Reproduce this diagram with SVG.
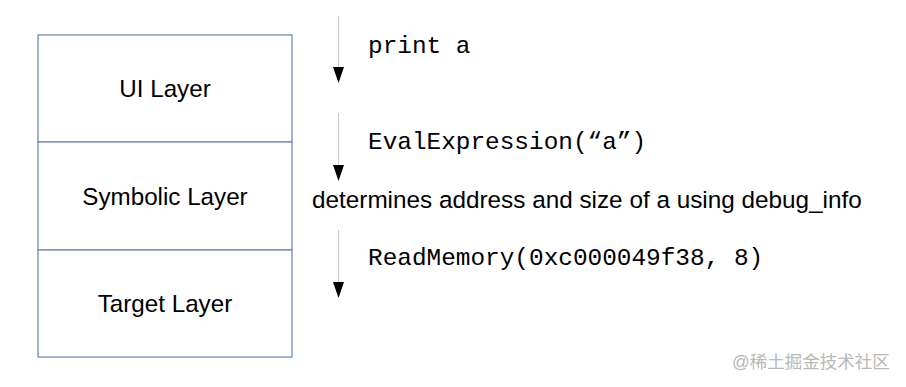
<svg xmlns="http://www.w3.org/2000/svg" width="906" height="387" viewBox="0 0 906 387">
<style>
.box{fill:#ffffff;stroke:#6f8cb5;stroke-width:1.3}
.lbl{font-family:"Liberation Sans",Arial,sans-serif;font-size:24.2px;fill:#000;text-anchor:middle}
.code{font-family:"Liberation Mono","DejaVu Sans Mono",monospace;font-size:24.4px;fill:#000}
.desc{font-family:"Liberation Sans",Arial,sans-serif;font-size:24.3px;fill:#000}
.arr{stroke:#c8c8c8;stroke-width:1;fill:none}
.head{fill:#000}
.wm{font-family:"Liberation Sans","Noto Sans CJK SC",sans-serif;font-size:17.5px;fill:#b8b8b8}
</style>
<rect width="906" height="387" fill="#ffffff"/>
<g id="ui-layer">
<rect class="box" x="38" y="35" width="254" height="107"/>
<text class="lbl" x="165" y="97">UI Layer</text>
</g>
<g id="symbolic-layer">
<rect class="box" x="38" y="142" width="254" height="108"/>
<text class="lbl" x="165" y="205">Symbolic Layer</text>
</g>
<g id="target-layer">
<rect class="box" x="38" y="250" width="254" height="107"/>
<text class="lbl" x="165" y="312">Target Layer</text>
</g>
<g id="connectors">
<line class="arr" x1="338.5" y1="16" x2="338.5" y2="68"/>
<polygon class="head" points="333,67 344,67 338.5,83"/>
<line class="arr" x1="338.5" y1="113" x2="338.5" y2="166"/>
<polygon class="head" points="333,165 344,165 338.5,181"/>
<line class="arr" x1="338.5" y1="230" x2="338.5" y2="283"/>
<polygon class="head" points="333,282 344,282 338.5,298"/>
</g>
<g id="labels">
<text class="code" x="368" y="53">print a</text>
<text class="code" x="368" y="149">EvalExpression(“a”)</text>
<text class="desc" x="312" y="208">determines address and size of a using debug_info</text>
<text class="code" x="368" y="265">ReadMemory(0xc000049f38, 8)</text>
</g>
<text class="wm" x="732" y="368">@稀土掘金技术社区</text>
</svg>
